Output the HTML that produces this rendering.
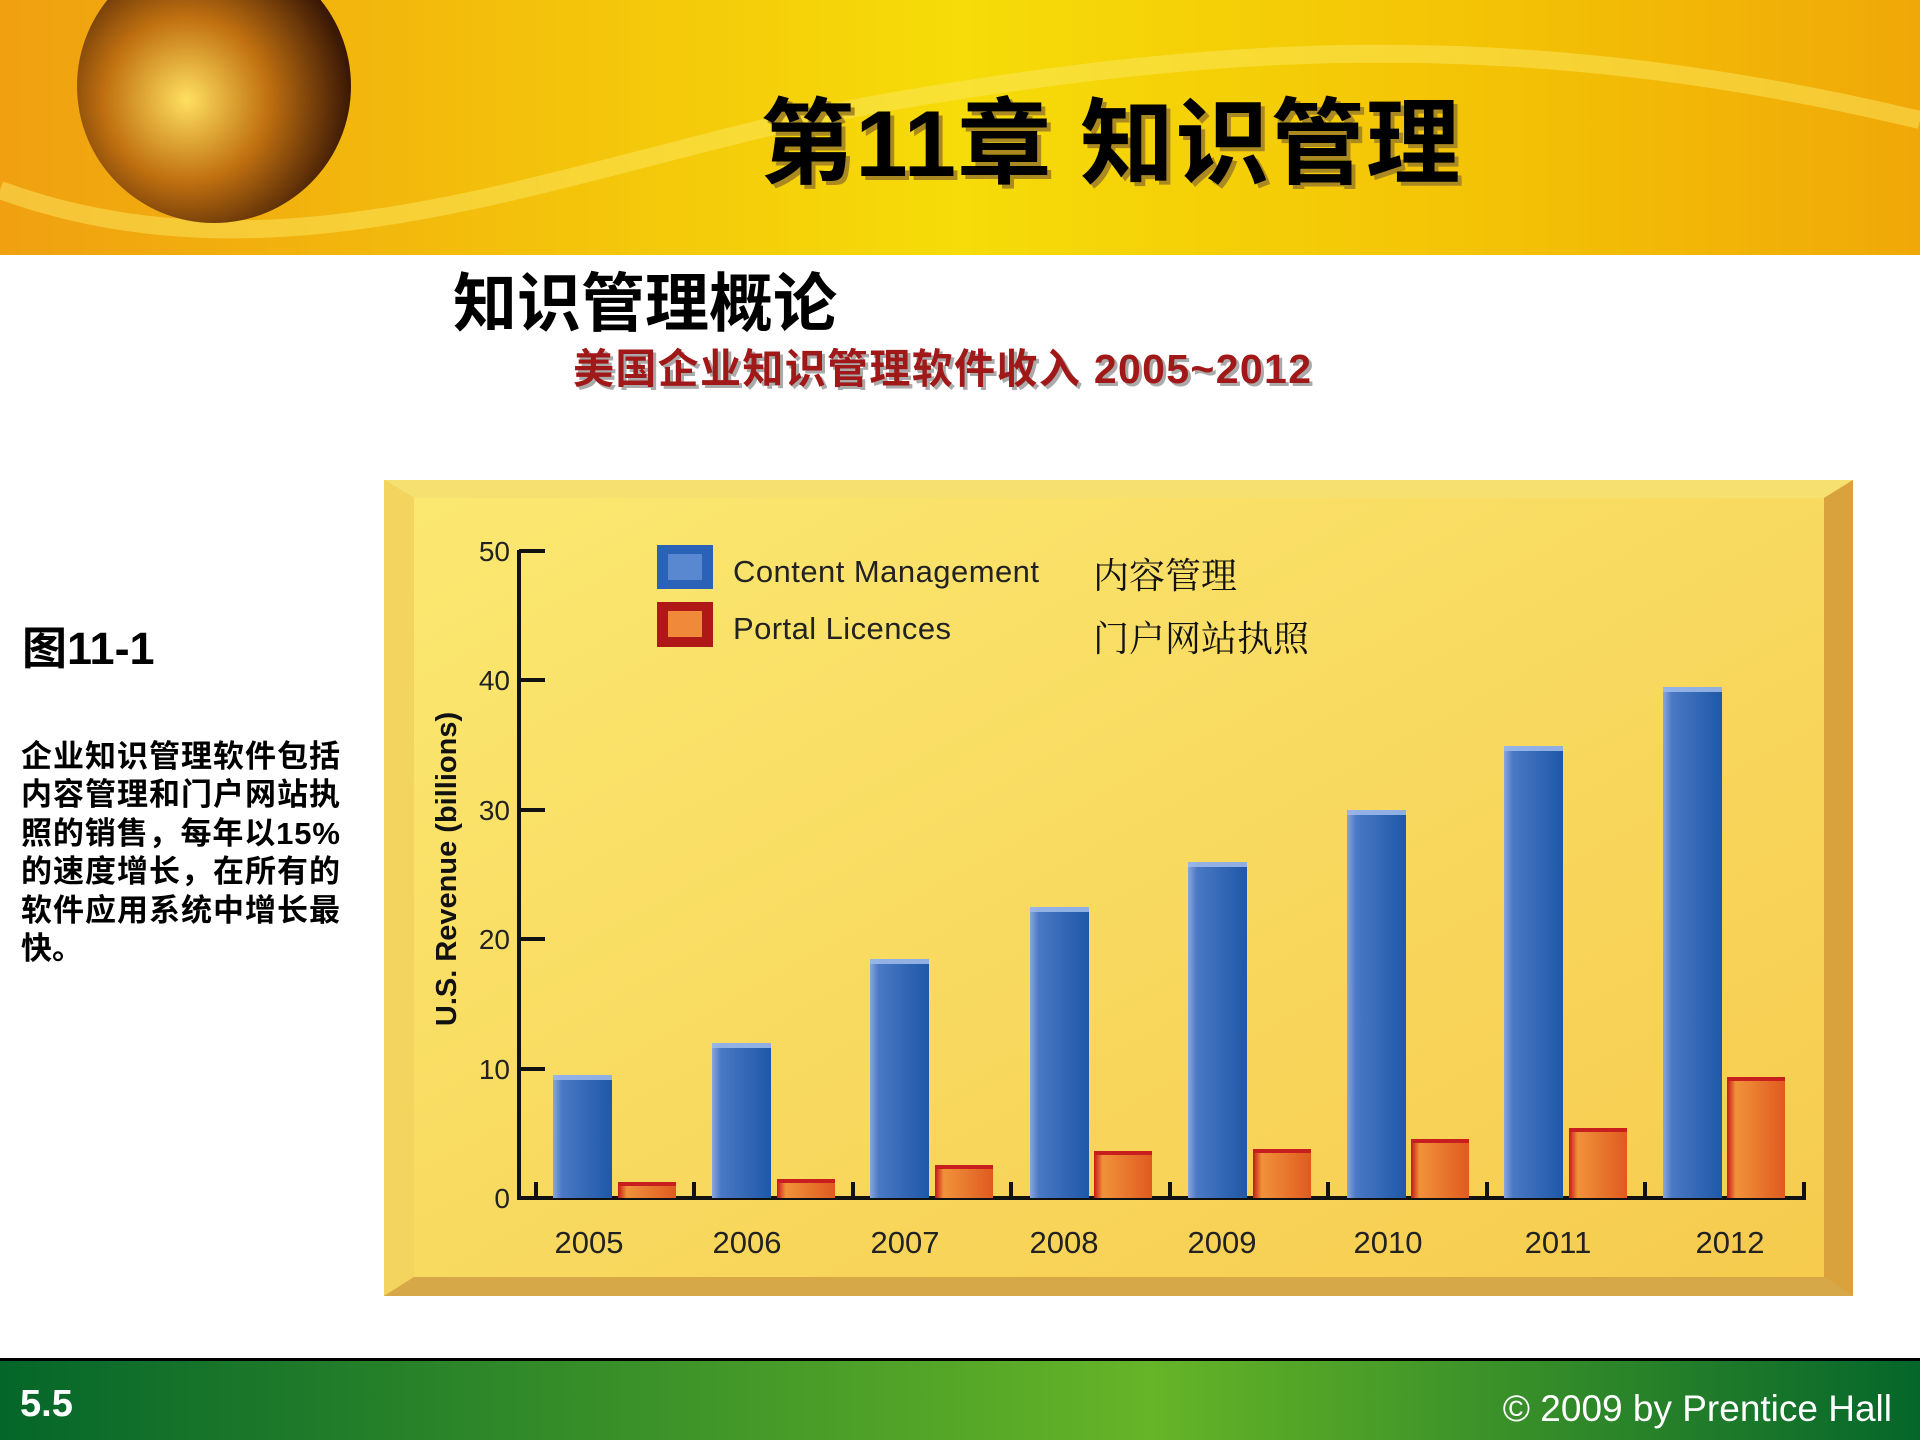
<!DOCTYPE html>
<html><head><meta charset="utf-8"><style>
html,body{margin:0;padding:0;width:1920px;height:1440px;overflow:hidden;background:#fff;}
body{position:relative;font-family:"Liberation Sans","Noto Sans CJK SC",sans-serif;}
.abs{position:absolute;white-space:nowrap;}
</style></head><body>
<svg class="abs" style="left:0;top:0" width="1920" height="1440" viewBox="0 0 1920 1440">
<defs>
<linearGradient id="hdr" x1="0" y1="0" x2="1" y2="0">
<stop offset="0" stop-color="#f0a010"/><stop offset="0.5" stop-color="#f6dc08"/><stop offset="0.8" stop-color="#f3c006"/><stop offset="1" stop-color="#f0a808"/></linearGradient>
<radialGradient id="glb" cx="0.4" cy="0.55" r="0.6"><stop offset="0" stop-color="#ffe060"/><stop offset="0.5" stop-color="#c07010"/><stop offset="1" stop-color="#3a1805"/></radialGradient>
<linearGradient id="ftr" x1="0" y1="0" x2="1" y2="0">
<stop offset="0" stop-color="#05662a"/><stop offset="0.6" stop-color="#66b428"/><stop offset="1" stop-color="#05662a"/></linearGradient>
<linearGradient id="pan" x1="0" y1="0" x2="1" y2="1"><stop offset="0" stop-color="#fbe871"/><stop offset="1" stop-color="#f6cb4e"/></linearGradient>
<linearGradient id="blue" x1="0" y1="0" x2="1" y2="0"><stop offset="0" stop-color="#8aa6dc"/><stop offset="0.15" stop-color="#4a78c4"/><stop offset="1" stop-color="#1e58a8"/></linearGradient>
<linearGradient id="org" x1="0" y1="0" x2="1" y2="0"><stop offset="0" stop-color="#c41818"/><stop offset="0.15" stop-color="#f0923a"/><stop offset="1" stop-color="#e05a20"/></linearGradient>
</defs>
<rect x="0" y="0" width="1920" height="255" fill="url(#hdr)"/>
<path d="M0 190 C300 300 600 150 900 100 C1200 50 1500 20 1920 120" stroke="#fbe860" stroke-width="18" fill="none" opacity="0.5"/>
<circle cx="214" cy="86" r="137" fill="url(#glb)"/>
<rect x="0" y="1358" width="1920" height="82" fill="url(#ftr)"/>
<rect x="0" y="1358" width="1920" height="3" fill="#000"/>
<rect x="384" y="480" width="1469" height="816" fill="#e7b64c"/>
<polygon points="384,480 1853,480 1824,498 414,498" fill="#f6e070"/>
<polygon points="384,480 414,498 414,1277 384,1296" fill="#f2d45e"/>
<polygon points="1853,480 1824,498 1824,1277 1853,1296" fill="#d9a23c"/>
<polygon points="384,1296 414,1277 1824,1277 1853,1296" fill="#d7a848"/>
<rect x="414" y="498" width="1410" height="779" fill="url(#pan)"/>
<g stroke="#111" stroke-width="4" fill="none">
<line x1="519" y1="550" x2="519" y2="1200"/>
<line x1="517" y1="1198" x2="1806" y2="1198"/>
<line x1="519" y1="551" x2="545" y2="551"/>
<line x1="519" y1="680" x2="545" y2="680"/>
<line x1="519" y1="810" x2="545" y2="810"/>
<line x1="519" y1="939" x2="545" y2="939"/>
<line x1="519" y1="1069" x2="545" y2="1069"/>
<line x1="536" y1="1198" x2="536" y2="1182"/><line x1="694" y1="1198" x2="694" y2="1182"/><line x1="853" y1="1198" x2="853" y2="1182"/><line x1="1011" y1="1198" x2="1011" y2="1182"/><line x1="1170" y1="1198" x2="1170" y2="1182"/><line x1="1328" y1="1198" x2="1328" y2="1182"/><line x1="1487" y1="1198" x2="1487" y2="1182"/><line x1="1645" y1="1198" x2="1645" y2="1182"/><line x1="1804" y1="1198" x2="1804" y2="1182"/>
</g>
<g font-family="Liberation Sans, sans-serif" font-size="28" fill="#222" text-anchor="end">
<text x="510" y="561">50</text><text x="510" y="690">40</text><text x="510" y="820">30</text><text x="510" y="949">20</text><text x="510" y="1079">10</text><text x="510" y="1208">0</text>
</g>
<text transform="translate(456,869) rotate(-90)" text-anchor="middle" font-family="Liberation Sans, sans-serif" font-weight="bold" font-size="29" fill="#111">U.S. Revenue (billions)</text>
<g font-family="Liberation Sans, sans-serif" font-size="31" fill="#222" text-anchor="middle">
<text x="589" y="1253">2005</text><text x="747" y="1253">2006</text><text x="905" y="1253">2007</text><text x="1064" y="1253">2008</text><text x="1222" y="1253">2009</text><text x="1388" y="1253">2010</text><text x="1558" y="1253">2011</text><text x="1730" y="1253">2012</text>
</g>
<g>
<rect x="553" y="1075" width="59" height="123" fill="url(#blue)"/>
<rect x="712" y="1043" width="59" height="155" fill="url(#blue)"/>
<rect x="870" y="959" width="59" height="239" fill="url(#blue)"/>
<rect x="1030" y="907" width="59" height="291" fill="url(#blue)"/>
<rect x="1188" y="862" width="59" height="336" fill="url(#blue)"/>
<rect x="1347" y="810" width="59" height="388" fill="url(#blue)"/>
<rect x="1504" y="746" width="59" height="452" fill="url(#blue)"/>
<rect x="1663" y="687" width="59" height="511" fill="url(#blue)"/>
<rect x="618" y="1182" width="58" height="16" fill="url(#org)"/>
<rect x="777" y="1179" width="58" height="19" fill="url(#org)"/>
<rect x="935" y="1165" width="58" height="33" fill="url(#org)"/>
<rect x="1094" y="1151" width="58" height="47" fill="url(#org)"/>
<rect x="1253" y="1149" width="58" height="49" fill="url(#org)"/>
<rect x="1411" y="1139" width="58" height="59" fill="url(#org)"/>
<rect x="1569" y="1128" width="58" height="70" fill="url(#org)"/>
<rect x="1727" y="1077" width="58" height="121" fill="url(#org)"/>
</g>
<g fill="#9bb8e8" opacity="0.9">
<rect x="553" y="1075" width="59" height="5"/><rect x="712" y="1043" width="59" height="5"/><rect x="870" y="959" width="59" height="5"/><rect x="1030" y="907" width="59" height="5"/><rect x="1188" y="862" width="59" height="5"/><rect x="1347" y="810" width="59" height="5"/><rect x="1504" y="746" width="59" height="5"/><rect x="1663" y="687" width="59" height="5"/>
</g>
<g fill="#c81e1e">
<rect x="618" y="1182" width="58" height="4"/><rect x="777" y="1179" width="58" height="4"/><rect x="935" y="1165" width="58" height="4"/><rect x="1094" y="1151" width="58" height="4"/><rect x="1253" y="1149" width="58" height="4"/><rect x="1411" y="1139" width="58" height="4"/><rect x="1569" y="1128" width="58" height="4"/><rect x="1727" y="1077" width="58" height="4"/>
</g>
<rect x="657" y="545" width="56" height="44" fill="#2a62b8"/><rect x="668" y="554" width="34" height="26" fill="#5a88d0"/>
<rect x="657" y="602" width="56" height="45" fill="#b01818"/><rect x="668" y="611" width="34" height="26" fill="#f08a3a"/>
<g font-family="Liberation Sans, sans-serif" font-size="31" fill="#222">
<text x="733" y="582" textLength="306">Content Management</text><text x="733" y="639" textLength="218">Portal Licences</text>
</g>
<g font-family="Liberation Serif, Noto Serif CJK SC, serif" font-size="36" fill="#111">
<text x="1093" y="588">内容管理</text><text x="1093" y="651">门户网站执照</text>
</g>
<text x="1114" y="180" text-anchor="middle" font-family="Liberation Sans, Noto Sans CJK SC, sans-serif" font-weight="bold" font-size="94" fill="#aa8a20" textLength="700">第11章 知识管理</text>
<text x="1110" y="176" text-anchor="middle" font-family="Liberation Sans, Noto Sans CJK SC, sans-serif" font-weight="bold" font-size="94" fill="#000" textLength="700">第11章 知识管理</text>
<text x="453" y="326" font-family="Liberation Sans, Noto Sans CJK SC, sans-serif" font-weight="bold" font-size="64" fill="#000">知识管理概论</text>
<text x="576" y="386" font-family="Liberation Sans, Noto Sans CJK SC, sans-serif" font-weight="bold" font-size="41" fill="#aaa" textLength="738">美国企业知识管理软件收入 2005~2012</text>
<text x="573" y="383" font-family="Liberation Sans, Noto Sans CJK SC, sans-serif" font-weight="bold" font-size="41" fill="#a01818" textLength="738">美国企业知识管理软件收入 2005~2012</text>
<text x="22" y="664" font-family="Liberation Sans, Noto Sans CJK SC, sans-serif" font-weight="bold" font-size="45" fill="#000">图11-1</text>
<g font-family="Liberation Sans, Noto Sans CJK SC, sans-serif" font-weight="bold" font-size="31" fill="#000">
<text x="21" y="767" textLength="319">企业知识管理软件包括</text>
<text x="21" y="805" textLength="319">内容管理和门户网站执</text>
<text x="21" y="844" textLength="319">照的销售，每年以15%</text>
<text x="21" y="882" textLength="319">的速度增长，在所有的</text>
<text x="21" y="921" textLength="319">软件应用系统中增长最</text>
<text x="21" y="959">快。</text>
</g>
<text x="20" y="1416" font-family="Liberation Sans, sans-serif" font-weight="bold" font-size="38" fill="#fff">5.5</text>
<text x="1892" y="1421" text-anchor="end" font-family="Liberation Sans, sans-serif" font-size="37" fill="#fff">© 2009 by Prentice Hall</text>
</svg>
</body></html>
